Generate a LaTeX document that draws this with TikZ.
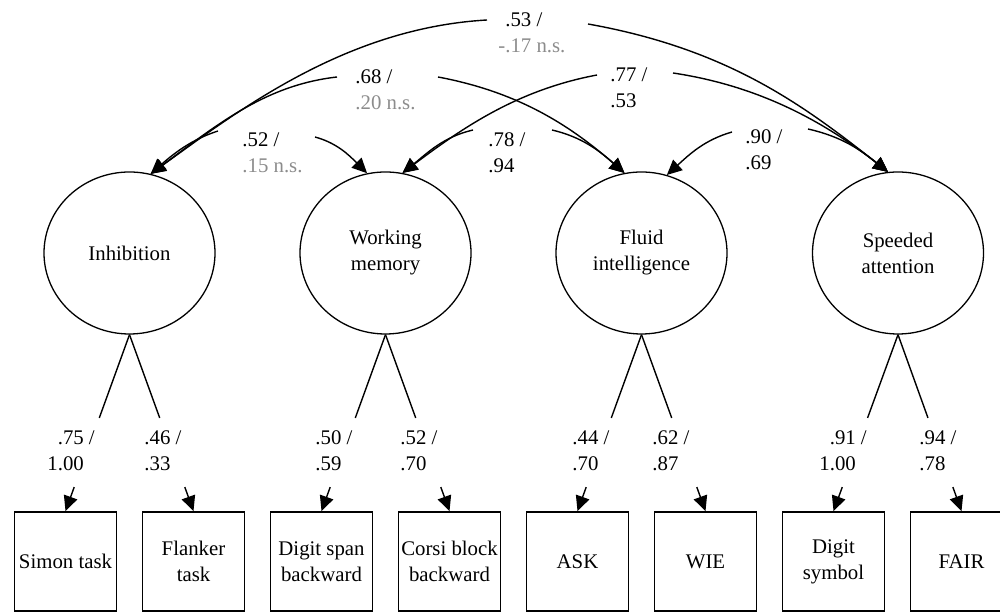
\documentclass[tikz,border=0pt]{standalone}
\usepackage{fontspec}
\setmainfont{Liberation Serif}
\usetikzlibrary{shapes.geometric,arrows.meta,calc}
\definecolor{nsgray}{RGB}{140,140,140}

\begin{document}
\begin{tikzpicture}[x=0.5pt,y=-0.5pt,
  every node/.style={font=\fontsize{10.4}{13}\selectfont},
  latent/.style={ellipse,draw,line width=0.65pt,minimum width=85.5pt,
    minimum height=81pt,inner sep=0pt,align=center},
  manifest/.style={rectangle,draw,line width=0.9pt,minimum width=51pt,
    minimum height=49.5pt,inner sep=0pt,align=center},
  % anchored at the baseline of the second (last) line
  coef/.style={anchor=base west,inner sep=0pt,align=left,
    font=\fontsize{10.4}{12.75}\selectfont},
  conn/.style={line width=0.7pt},
  arr/.style={conn,-{Triangle[length=7.5pt,width=7pt]}}]

\useasboundingbox (0,0) rectangle (1000,613);

% latent factors
\node[latent] (inh) at (129.5,253) {Inhibition};
\node[latent] (wm)  at (385.5,253) {Working\\memory};
\node[latent] (fl)  at (641.5,253) {Fluid\\intelligence};
\node[latent] (spd) at (898,253)   {Speeded\\attention};

% indicator tasks
\node[manifest] (simon) at (65.5,561.5)  {Simon task};
\node[manifest] (flank) at (193.5,561.5) {Flanker\\task};
\node[manifest] (dspan) at (321.5,561.5) {Digit span\\backward};
\node[manifest] (corsi) at (449.5,561.5) {Corsi block\\backward};
\node[manifest] (ask)   at (577.5,561.5) {ASK};
\node[manifest] (wie)   at (705.5,561.5) {WIE};
\node[manifest] (dsym)  at (833.5,561.5) {Digit\\symbol};
\node[manifest] (fair)  at (961.5,561.5) {FAIR};

% factor loadings, interrupted where the coefficients sit
\foreach \f/\b in {inh/simon,inh/flank,wm/dspan,wm/corsi,fl/ask,fl/wie,spd/dsym,spd/fair}{
  \draw[conn] (\f.south) -- ($(\f.south)!0.472!(\b.north)$);
  \draw[arr] ($(\f.south)!0.864!(\b.north)$) -- (\b.north);
}

% loading coefficients
\node[coef] (lsimon) at (47,470.5)  {\hphantom{1}.75 /\\1.00};
\node[coef] (lflank) at (144,470.5) {.46 /\\.33};
\node[coef] (ldspan) at (315,470.5) {.50 /\\.59};
\node[coef] (lcorsi) at (400,470.5) {.52 /\\.70};
\node[coef] (lask)   at (572,470.5) {.44 /\\.70};
\node[coef] (lwie)   at (652,470.5) {.62 /\\.87};
\node[coef] (ldsym)  at (819,470.5) {\hphantom{1}.91 /\\1.00};
\node[coef] (lfair)  at (919,470.5) {.94 /\\.78};

% correlation coefficients
\node[coef] (l53) at (498,52.5)  {\hphantom{-}.53 /\\\textcolor{nsgray}{-.17 n.s.}};
\node[coef] (l68) at (355,109.5) {.68 /\\\textcolor{nsgray}{.20 n.s.}};
\node[coef] (l77) at (610,107.5) {.77 /\\.53};
\node[coef] (l52) at (242,172.5) {.52 /\\\textcolor{nsgray}{.15 n.s.}};
\node[coef] (l78) at (488,172.5) {.78 /\\.94};
\node[coef] (l90) at (745,169.5) {.90 /\\.69};

% free ends of the correlation arcs beside their coefficients
\coordinate (c53a) at (487,20);  \coordinate (c53b) at (588,24);
\coordinate (c68a) at (337,77);  \coordinate (c68b) at (438,77);
\coordinate (c77a) at (597,75);  \coordinate (c77b) at (673,73);
\coordinate (c52a) at (218,131); \coordinate (c52b) at (315,137);
\coordinate (c78a) at (473,130); \coordinate (c78b) at (552,130);
\coordinate (c90a) at (732,132); \coordinate (c90b) at (808,129);

% factor correlations
\draw[arr] (c53a) .. controls +(-140,8) and +(90,-65) .. (inh.75);
\draw[arr] (c53b) .. controls +(140,25) and +(-85,-67) .. (spd.97);
\draw[arr] (c68a) .. controls +(-70,8) and +(70,-52) .. (inh.75);
\draw[arr] (c68b) .. controls +(80,15) and +(-55,-48) .. (fl.102);
\draw[arr] (c77a) .. controls +(-80,15) and +(60,-45) .. (wm.78);
\draw[arr] (c77b) .. controls +(80,12) and +(-70,-55) .. (spd.97);
\draw[arr] (c52a) .. controls +(-25,8) and +(25,-22) .. (inh.75);
\draw[arr] (c52b) .. controls +(22,6) and +(-18,-18) .. (wm.103);
\draw[arr] (c78a) .. controls +(-30,7) and +(25,-20) .. (wm.78);
\draw[arr] (c78b) .. controls +(30,7) and +(-25,-22) .. (fl.102);
\draw[arr] (c90a) .. controls +(-28,8) and +(22,-20) .. (fl.72);
\draw[arr] (c90b) .. controls +(35,8) and +(-28,-22) .. (spd.97);
\end{tikzpicture}
\end{document}
